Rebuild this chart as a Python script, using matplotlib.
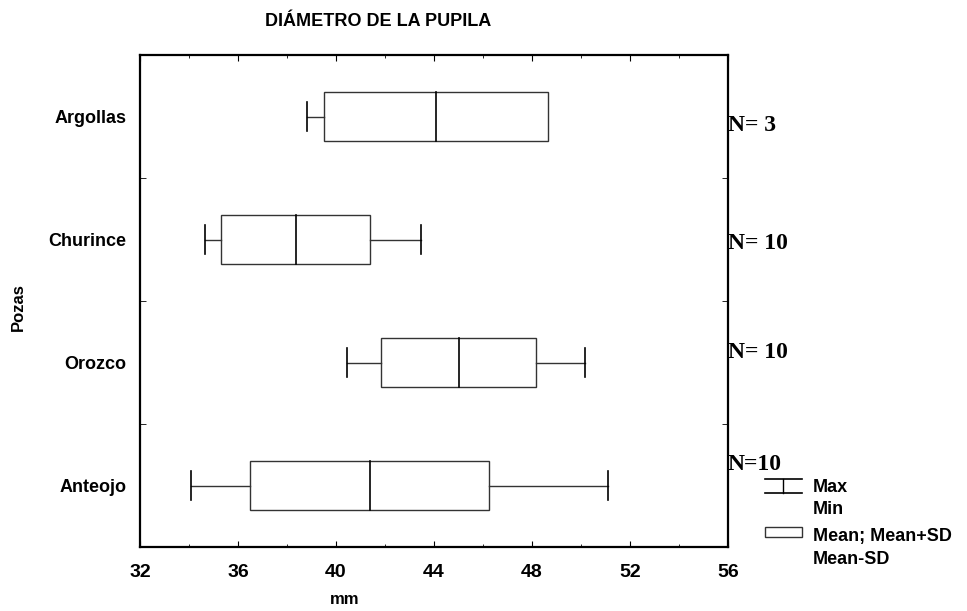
import matplotlib
matplotlib.use("Agg")
import matplotlib.pyplot as plt
from matplotlib.lines import Line2D
from matplotlib.patches import Rectangle

# data (mm)
pozas = ["Argollas", "Churince", "Orozco", "Anteojo"]
mins = [38.8, 34.65, 40.45, 34.1]
mean_minus_sd = [39.5, 35.3, 41.85, 36.5]
means = [44.1, 38.35, 45.0, 41.4]
mean_plus_sd = [48.65, 41.4, 48.15, 46.25]
maxs = [48.65, 43.45, 50.15, 51.1]
n_labels = ["N= 3", "N= 10", "N= 10", "N=10"]
n_offsets = [-0.07, -0.03, 0.085, 0.17]  # where the N text sits vs. the box row
xticks = [32, 36, 40, 44, 48, 52, 56]

plt.rcParams['font.family'] = ['Liberation Sans', 'DejaVu Sans']

fig = plt.figure(figsize=(9.67, 6.11), dpi=100)
ax = fig.add_axes([140 / 967, 64 / 611, 588 / 967, 492 / 611])

ypos = [3, 2, 1, 0]  # Argollas on top
half = 0.2
cap = 0.12
lc = '#333333'

for i, y in enumerate(ypos):
    # box from Mean-SD to Mean+SD with mean line
    ax.add_patch(Rectangle((mean_minus_sd[i], y - half), mean_plus_sd[i] - mean_minus_sd[i], 2 * half,
                           fill=False, edgecolor=lc, lw=1.0))
    ax.plot([means[i], means[i]], [y - half, y + half], color='black', lw=1.2)
    # whiskers
    ax.plot([mins[i], mean_minus_sd[i]], [y, y], color=lc, lw=1.0)
    ax.plot([mean_plus_sd[i], maxs[i]], [y, y], color=lc, lw=1.0)
    ax.plot([mins[i], mins[i]], [y - cap, y + cap], color='black', lw=1.2)
    if maxs[i] > mean_plus_sd[i]:
        ax.plot([maxs[i], maxs[i]], [y - cap, y + cap], color='black', lw=1.2)
    # N labels to the right of the frame
    ax.text(56.0, y + n_offsets[i], n_labels[i], fontsize=17, fontweight='bold',
            family=['Liberation Serif', 'DejaVu Serif'], va='center', ha='left', clip_on=False)

ax.set_xlim(32, 56)
ax.set_ylim(-0.5, 3.5)
ax.set_xticks(xticks)
ax.set_xticklabels([str(t) for t in xticks], fontsize=14, fontweight='bold')
ax.set_yticks(ypos)
ax.set_yticklabels(pozas, fontsize=13, fontweight='bold')
ax.set_yticks([-0.5 + k for k in range(5)], minor=True)
ax.set_xticks([34 + 4 * k for k in range(6)], minor=True)
ax.tick_params(axis='x', which='major', direction='in', length=4, top=True, pad=12)
ax.tick_params(axis='x', which='minor', direction='in', length=2, top=True)
ax.tick_params(axis='y', which='major', length=0, pad=10)
ax.tick_params(axis='y', which='minor', direction='in', length=4, right=True)
for s in ax.spines.values():
    s.set_linewidth(1.6)


def fx(px):
    return px / 967


def fy(py):
    return 1 - py / 611


fig.text(fx(345), fy(600), "mm", fontsize=12, fontweight='bold', ha='center', va='center')
fig.text(fx(18), fy(307), "Pozas", fontsize=12, fontweight='bold', ha='center', va='center',
         rotation=90)
fig.text(fx(378), fy(22), "DIÁMETRO DE LA PUPILA", fontsize=13, fontweight='bold',
         ha='center', va='center')

# legend, drawn outside the axes
fig.add_artist(Line2D([fx(765), fx(802)], [fy(479), fy(479)], color='black', lw=1.2))
fig.add_artist(Line2D([fx(765), fx(802)], [fy(493), fy(493)], color='black', lw=1.2))
fig.add_artist(Line2D([fx(783), fx(783)], [fy(479), fy(493)], color='black', lw=1.0))
fig.add_artist(Rectangle((fx(765), fy(537)), fx(802) - fx(765), fy(527) - fy(537),
                         fill=False, edgecolor=lc, lw=1.0, transform=fig.transFigure))
fig.text(fx(813), fy(488), "Max", fontsize=13, fontweight='bold', va='center')
fig.text(fx(813), fy(510), "Min", fontsize=13, fontweight='bold', va='center')
fig.text(fx(813), fy(537), "Mean; Mean+SD", fontsize=13, fontweight='bold', va='center')
fig.text(fx(813), fy(560), "Mean-SD", fontsize=13, fontweight='bold', va='center')

fig.savefig("out.png", dpi=100)
